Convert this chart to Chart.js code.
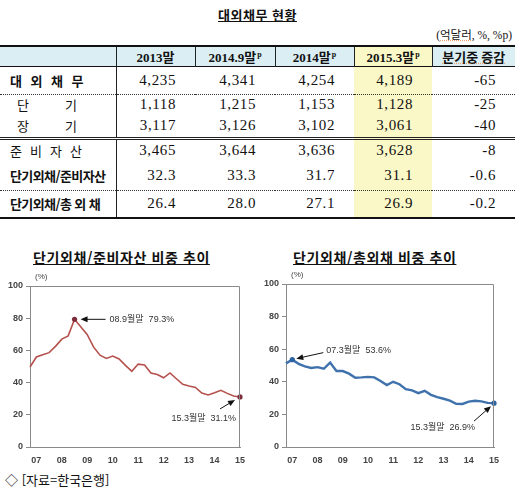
<!DOCTYPE html>
<html lang="ko">
<head>
<meta charset="utf-8">
<script src="https://cdn.jsdelivr.net/npm/chart.js@4.4.1/dist/chart.umd.min.js"></script>
<style>
  body { margin: 0; background: #fff; color: #111; font-family: "Noto Sans CJK KR", sans-serif; }
  #page { position: relative; width: 515px; height: 492px; overflow: hidden; }
  .title { position: absolute; top: 5px; left: 0; width: 515px; text-align: center;
           font: bold 13px "Noto Sans CJK KR"; text-decoration: underline; letter-spacing: 0.5px; }
  .unit { position: absolute; top: 26px; right: 3px; font: 11.5px "Liberation Serif", "Noto Sans CJK KR"; }
  .spell { text-decoration: underline dotted #e8a070; }
  table { position: absolute; top: 45px; left: 0; width: 515px; border-collapse: collapse; table-layout: fixed; }
  td, th { padding: 0; white-space: nowrap; }
  th { font: bold 13px "Liberation Serif", "Noto Sans CJK KR"; background: #dbeef4; height: 19px;
       border-left: 1px solid #222; text-align: center; }
  th:first-child { border-left: none; }
  th sup { font-size: 8px; vertical-align: 5px; margin-left: 1px; }
  tr.hd { border-top: 2px solid #111; border-bottom: 1px solid #111; }
  td.lab { border-right: 1px solid #222; padding-left: 10px; font-size: 13px; }
  td.num { text-align: right; padding-right: 19px; font: 15px "Liberation Serif", serif; letter-spacing: 0.6px; }
  td.y { background: #fbf8c8; }
  th.y { background: #fbf8c8; }
  tr.dot { border-bottom: 1px dotted #333; }
  tr.dbl { border-bottom: 3px double #222; }
  tr.last { border-bottom: 2px solid #111; }
  .b { font-weight: bold; }
  .ctitle { position: absolute; top: 247px; font: bold 14px "Noto Sans CJK KR"; text-decoration: underline;
            letter-spacing: 0.6px; white-space: pre; }
  canvas { position: absolute; }
  .src { position: absolute; left: 5px; top: 470px; font: 13px "Noto Sans CJK KR"; }
</style>
</head>
<body>
<div id="page">
  <div class="title">대외채무 현황</div>
  <div class="unit">(<span class="spell">억달러</span>, %, %p)</div>
  <table id="tabla"></table>

  <div class="ctitle" style="left:33px">단기외채/준비자산 비중 추이</div>
  <div class="ctitle" style="left:293px">단기외채/총외채 비중 추이</div>
  <canvas id="g1" width="255" height="200" style="left:0;top:270px;width:255px;height:200px"></canvas>
  <canvas id="g2" width="260" height="200" style="left:255px;top:270px;width:260px;height:200px"></canvas>
  <div class="src">◇ [자료=한국은행]</div>
</div>
<script>
// table data (억달러, %)
const columns = ['2013말', '2014.9말', '2014말', '2015.3말', '분기중 증감'];
const prelim = [false, true, true, true, false];
const debtTotal = [4235, 4341, 4254, 4189, -65];
const debtShort = [1118, 1215, 1153, 1128, -25];
const debtLong = [3117, 3126, 3102, 3061, -40];
const reserves = [3465, 3644, 3636, 3628, -8];
const shortToReserves = [32.3, 33.3, 31.7, 31.1, -0.6];
const shortToTotal = [26.4, 28.0, 27.1, 26.9, -0.2];

// chart data, quarter ends
const quarters = [
  '06.12', '07.3', '07.6', '07.9', '07.12', '08.3', '08.6', '08.9', '08.12',
  '09.3', '09.6', '09.9', '09.12', '10.3', '10.6', '10.9', '10.12',
  '11.3', '11.6', '11.9', '11.12', '12.3', '12.6', '12.9', '12.12',
  '13.3', '13.6', '13.9', '13.12', '14.3', '14.6', '14.9', '14.12', '15.3'
];
const ratioReserves = [
  49.7, 55.9, 57.3, 58.6, 62.5, 67.0, 69.0, 79.3, 74.5,
  69.8, 62.0, 57.0, 55.0, 56.5, 54.7, 50.7, 47.0,
  51.5, 51.0, 46.0, 45.0, 43.0, 46.0, 42.4, 38.9,
  37.9, 37.0, 33.5, 32.3, 33.7, 35.2, 33.3, 31.7, 31.1
];
const ratioTotal = [
  51.3, 53.6, 51.0, 49.5, 48.5, 49.0, 48.0, 51.8, 46.6,
  46.6, 45.0, 42.5, 42.7, 43.0, 42.7, 40.5, 38.0,
  40.0, 38.5, 35.5, 34.7, 33.0, 34.5, 32.0, 30.6,
  29.6, 28.4, 26.5, 26.4, 27.8, 28.4, 28.0, 27.1, 26.9
];
const yTicks = [0, 20, 40, 60, 80, 100];

// build the table
const filas = [
  { html: '<span class="b" style="letter-spacing:8.5px">대외채무</span>', vals: debtTotal, dec: 0, cls: 'dot', h: 28 },
  { html: '<span style="display:inline-block;width:48px;padding-left:7px">단</span>기', vals: debtShort, dec: 0, cls: '', h: 18 },
  { html: '<span style="display:inline-block;width:48px;padding-left:7px">장</span>기', vals: debtLong, dec: 0, cls: 'dbl', h: 24 },
  { html: '<span style="letter-spacing:8px">준비자산</span>', vals: reserves, dec: 0, cls: '', h: 24 },
  { html: '<span class="b" style="letter-spacing:-0.6px">단기외채/준비자산</span>', vals: shortToReserves, dec: 1, cls: 'dot', h: 28 },
  { html: '<span class="b" style="letter-spacing:-0.6px">단기외채/총 외 채</span>', vals: shortToTotal, dec: 1, cls: 'last', h: 28 }
];
const anchos = [116, 79, 80, 79, 78, 83];
let html = '<colgroup>' + anchos.map(w => '<col style="width:' + w + 'px">').join('') + '</colgroup>';
html += '<tr class="hd"><th></th>' + columns.map((c, i) => {
  const y = i === 3 ? ' class="y"' : '';
  const txt = i === 4 ? '<span class="spell">' + c + '</span>' : c;
  return '<th' + y + '>' + txt + (prelim[i] ? '<sup>p</sup>' : '') + '</th>';
}).join('') + '</tr>';
filas.forEach(f => {
  html += '<tr class="' + f.cls + '" style="height:' + f.h + 'px"><td class="lab">' + f.html + '</td>' +
    f.vals.map((v, i) => {
      const s = f.dec ? v.toFixed(1) : v.toLocaleString('en-US');
      return '<td class="num' + (i === 3 ? ' y' : '') + '">' + s + '</td>';
    }).join('') + '</tr>';
});
document.getElementById('tabla').innerHTML = html;

Chart.defaults.font.family = '"Liberation Sans", "Noto Sans CJK KR", sans-serif';
Chart.defaults.animation = false;

function flecha(ctx, x1, y1, x2, y2) {
  const ang = Math.atan2(y2 - y1, x2 - x1);
  ctx.beginPath();
  ctx.moveTo(x1, y1);
  ctx.lineTo(x2 - 5 * Math.cos(ang), y2 - 5 * Math.sin(ang));
  ctx.stroke();
  ctx.beginPath();
  ctx.moveTo(x2, y2);
  ctx.lineTo(x2 - 7 * Math.cos(ang) + 3 * Math.sin(ang), y2 - 7 * Math.sin(ang) - 3 * Math.cos(ang));
  ctx.lineTo(x2 - 7 * Math.cos(ang) - 3 * Math.sin(ang), y2 - 7 * Math.sin(ang) + 3 * Math.cos(ang));
  ctx.closePath();
  ctx.fill();
}

// plot box, (%) label and the two callouts
const notasPlugin = {
  id: 'notas',
  afterDatasetsDraw(chart, args, opts) {
    const { ctx, chartArea: a, scales } = chart;
    const data = chart.data.datasets[0].data;
    ctx.save();
    ctx.strokeStyle = '#8a8a8a';
    ctx.lineWidth = 1;
    ctx.beginPath();
    ctx.moveTo(a.left, a.top + 0.5);
    ctx.lineTo(a.right - 0.5, a.top + 0.5);
    ctx.lineTo(a.right - 0.5, a.bottom);
    ctx.stroke();

    ctx.fillStyle = '#444';
    ctx.font = '8px "Liberation Sans"';
    ctx.textBaseline = 'middle';
    ctx.fillText('(%)', a.left + 5, a.top - 9);

    ctx.font = '9px "Liberation Sans", "Noto Sans CJK KR"';
    ctx.strokeStyle = '#111';
    opts.notas.forEach(n => {
      const px = scales.x.getPixelForValue(n.i);
      const py = scales.y.getPixelForValue(data[n.i]);
      ctx.fillStyle = '#111';
      flecha(ctx, px + n.desde[0], py + n.desde[1], px + n.hasta[0], py + n.hasta[1]);
      ctx.fillStyle = '#333';
      ctx.textAlign = n.align;
      ctx.fillText(quarters[n.i] + '월말  ' + data[n.i].toFixed(1) + '%', px + n.texto[0], py + n.texto[1]);
    });
    ctx.restore();
  }
};

function crearGrafico(idCanvas, valores, color, colorPunto, grosor, marcados, notas, anchoY, padding) {
  const ctx = document.getElementById(idCanvas).getContext('2d');
  return new Chart(ctx, {
    type: 'line',
    data: {
      labels: quarters,
      datasets: [{
        data: valores,
        borderColor: color,
        borderWidth: grosor,
        tension: 0,
        pointRadius: c => marcados.includes(c.dataIndex) ? 2.6 : 0,
        pointBackgroundColor: colorPunto,
        pointBorderColor: colorPunto,
        pointBorderWidth: 0
      }]
    },
    options: {
      responsive: false,
      maintainAspectRatio: false,
      layout: { padding: padding },
      plugins: {
        legend: { display: false },
        tooltip: { enabled: false },
        notas: { notas: notas }
      },
      scales: {
        x: {
          offset: false,
          grid: { display: false },
          border: { color: '#8a8a8a' },
          ticks: {
            autoSkip: false, maxRotation: 0, padding: 0,
            color: '#444', font: { size: 9, weight: 'bold' },
            callback: (v, i) => quarters[i].endsWith('.3') ? quarters[i].slice(0, 2) : ''
          },
          afterFit: s => { s.height = 23; }
        },
        y: {
          min: 0, max: 100,
          afterBuildTicks: s => { s.ticks = yTicks.map(v => ({ value: v })); },
          grid: { drawOnChartArea: false, tickLength: 4, color: '#8a8a8a' },
          border: { color: '#8a8a8a' },
          ticks: { color: '#444', padding: 3, font: { size: 9, weight: 'bold' } },
          afterFit: s => { s.width = anchoY; }
        }
      }
    },
    plugins: [notasPlugin]
  });
}

crearGrafico('g1', ratioReserves, '#b5514c', '#7e2b3b', 1.6, [7, 33], [
  { i: 7, align: 'left', texto: [35, 0], desde: [31, 0], hasta: [6, 0] },
  { i: 33, align: 'right', texto: [-4, 22], desde: [-20, 12], hasta: [-5, 3] }
], 30, { top: 16, right: 15, left: 0, bottom: 0 });

crearGrafico('g2', ratioTotal, '#3f72ad', '#2c64a2', 2.4, [1, 33], [
  { i: 1, align: 'left', texto: [34, -9], desde: [31, -7], hasta: [4, -1] },
  { i: 33, align: 'right', texto: [-19, 24], desde: [-20, 18], hasta: [-3, 3] }
], 31, { top: 14, right: 21, left: 0, bottom: 0 });
</script>
</body>
</html>
